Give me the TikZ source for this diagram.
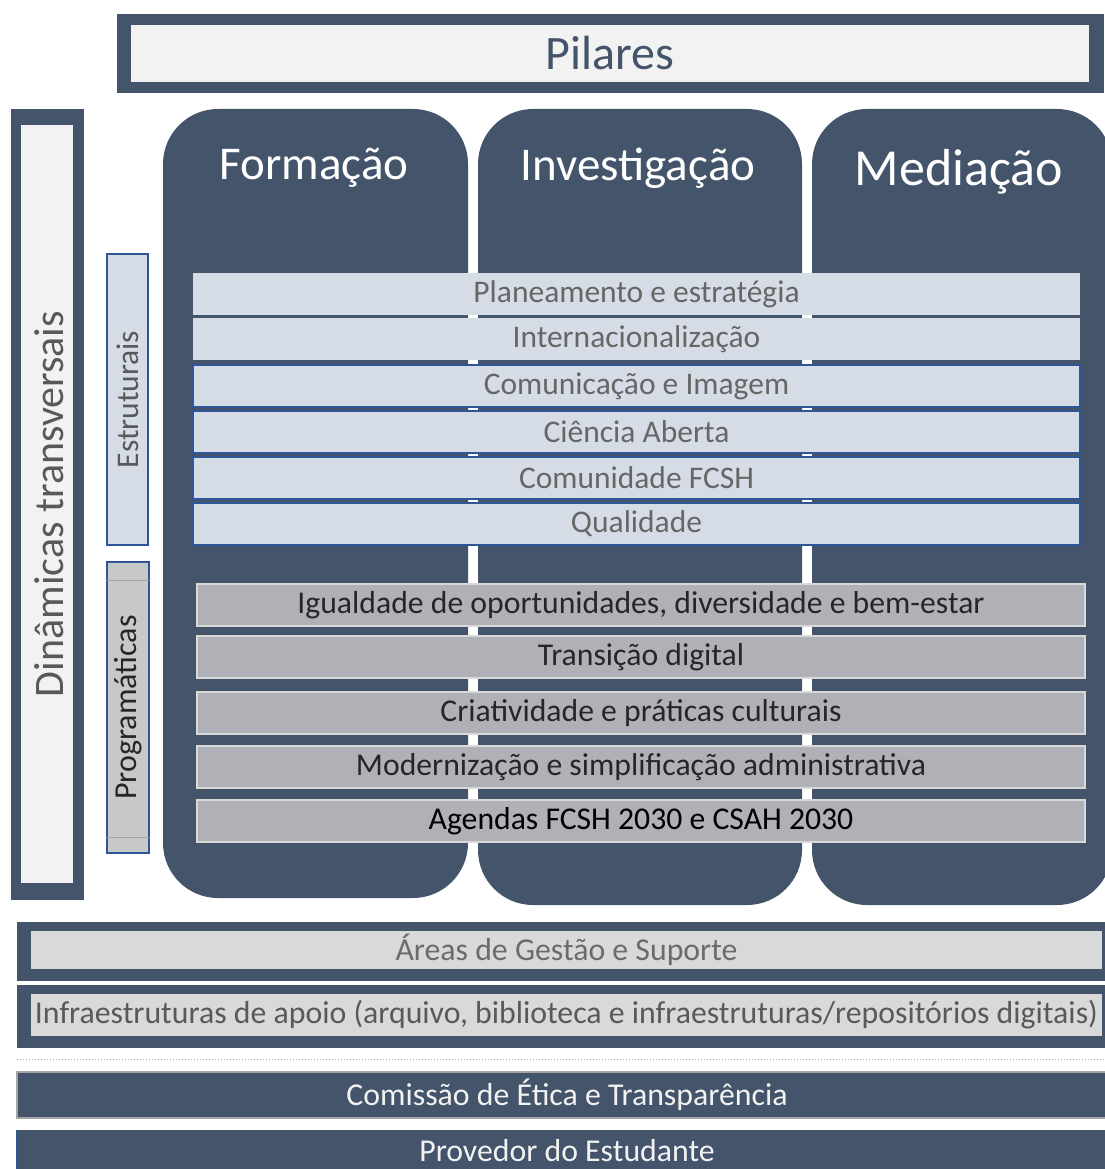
\documentclass[tikz,border=0pt]{standalone}
\usepackage{fontspec}
\setmainfont{Carlito}
\definecolor{ardosia}{HTML}{44546A}
\definecolor{claro}{HTML}{F2F2F2}
\definecolor{azulclaro}{HTML}{D6DCE5}
\definecolor{azulborda}{HTML}{2F5597}
\definecolor{cinzaprog}{HTML}{AFB1B7}
\definecolor{cinzaclaro}{HTML}{D9D9D9}
\definecolor{cinzaborda}{HTML}{A6A6A6}
\definecolor{textocinza}{HTML}{595959}
\tikzset{
    caixa/.style={rectangle, inner sep=0pt, outer sep=0pt},
    pilar/.style={caixa, fill=ardosia, rounded corners=55pt},
    titulo/.style={text=white, font=\fontsize{47}{56}\selectfont},
    estrut/.style={caixa, fill=azulclaro, minimum width=887pt, minimum height=42pt, text=black!60, font=\fontsize{31.5}{36}\selectfont},
    estrutazul/.style={estrut, draw=azulborda, line width=2pt},
    prog/.style={caixa, fill=cinzaprog, draw=cinzaclaro, line width=2pt, minimum width=888pt, minimum height=42pt, text=black!85, font=\fontsize{31.7}{36}\selectfont},
    faixa/.style={caixa, fill=ardosia},
    faixaclara/.style={caixa, fill=cinzaclaro, font=\fontsize{31.8}{36}\selectfont},
}
\begin{document}
\begin{tikzpicture}[x=1pt, y=-1pt]
    \useasboundingbox (0,0) rectangle (1104,1169);

    % Pilares
    \node[faixa, minimum width=987pt, minimum height=79pt] (pilaresfundo) at (610.5, 53.5) {};
    \node[caixa, fill=claro, minimum width=958pt, minimum height=57pt, text=ardosia, font=\fontsize{48}{56}\selectfont] (pilares) at (610, 53.5) {Pilares};

    % Dinâmicas transversais
    \node[faixa, minimum width=73pt, minimum height=791pt] (dinfundo) at (47.5, 504.5) {};
    \node[caixa, fill=claro, minimum width=52pt, minimum height=758pt] (dinamicas) at (47, 504) {};
    \node[rotate=90, text=textocinza, font=\fontsize{42}{50}\selectfont] (dintexto) at (49, 504) {Dinâmicas transversais};

    % Estruturais e Programáticas
    \node[caixa, fill=azulclaro, draw=azulborda, line width=2pt, minimum width=41pt, minimum height=291pt] (estruturais) at (127.5, 399.5) {};
    \node[rotate=90, text=textocinza, font=\fontsize{31.5}{36}\selectfont] at (estruturais.center) {Estruturais};
    \node[caixa, fill=cinzaclaro!92!black, draw=azulborda, line width=2pt, minimum width=42pt, minimum height=291pt] (programaticas) at (128, 707.5) {};
    \draw[cinzaborda, line width=1pt] (107, 580) -- (149, 580);
    \draw[cinzaborda, line width=1pt] (107, 837) -- (149, 837);
    \node[rotate=90, text=black!85, font=\fontsize{32}{36}\selectfont] at (programaticas.center) {Programáticas};

    % Os três pilares
    \node[pilar, minimum width=305pt, minimum height=789pt] (formacao) at (315.5, 503.5) {};
    \node[pilar, minimum width=324pt, minimum height=796pt] (investigacao) at (640, 507) {};
    \node[pilar, minimum width=300pt, minimum height=796pt] (mediacao) at (962, 507) {};
    \node[titulo] at (314, 168) {Formação};
    \node[titulo] at (638, 168) {Investigação};
    \node[titulo, font=\fontsize{52}{60}\selectfont] at (959, 172) {Mediação};

    % Dinâmicas estruturais
    \node[estrut] (planeamento) at (636.5, 294) {Planeamento e estratégia};
    \node[estrut] (internacional) at (636.5, 339) {Internacionalização};
    \node[estrutazul] (comunicacao) at (636.5, 386) {Comunicação e Imagem};
    \node[estrutazul] (ciencia) at (636.5, 432) {Ciência Aberta};
    \node[estrutazul] (comunidade) at (636.5, 478) {Comunidade FCSH};
    \node[estrutazul] (qualidade) at (636.5, 524) {Qualidade};

    % Dinâmicas programáticas
    \node[prog] (igualdade) at (641, 605) {Igualdade de oportunidades, diversidade e bem-estar};
    \node[prog] (transicao) at (641, 657) {Transição digital};
    \node[prog] (criatividade) at (641, 713) {Criatividade e práticas culturais};
    \node[prog] (modernizacao) at (641, 767) {Modernização e simplificação administrativa};
    \node[prog, text=black] (agendas) at (641, 821) {Agendas FCSH 2030 e CSAH 2030};

    % Gestão e infraestruturas
    \node[faixa, minimum width=1100pt, minimum height=59pt] (areasfundo) at (567, 951.5) {};
    \node[faixaclara, minimum width=1071pt, minimum height=38pt, text=black!58] (areas) at (566.5, 950) {Áreas de Gestão e Suporte};
    \node[faixa, minimum width=1100pt, minimum height=63pt] (infrafundo) at (567, 1016.5) {};
    \node[faixaclara, minimum width=1071pt, minimum height=42pt, text=textocinza] (infra) at (566.5, 1015) {Infraestruturas de apoio (arquivo, biblioteca e infraestruturas/repositórios digitais)};

    % Linha pontilhada
    \coordinate (pontoa) at (17, 1059);
    \coordinate (pontob) at (1104, 1059);
    \draw[cinzaborda, line width=1pt, dotted] (pontoa) -- (pontob);

    % Órgãos
    \node[faixa, draw=cinzaborda, line width=2.5pt, minimum width=1100pt, minimum height=46pt, text=claro, font=\fontsize{31.8}{36}\selectfont] (comissao) at (567, 1095) {Comissão de Ética e Transparência};
    \node[faixa, minimum width=1100pt, minimum height=42pt, text=claro, font=\fontsize{31.8}{36}\selectfont] (provedor) at (567, 1151) {Provedor do Estudante};
    \draw[azulborda, line width=2pt] (provedor.north west) -- (provedor.south west);

\end{tikzpicture}
\end{document}
